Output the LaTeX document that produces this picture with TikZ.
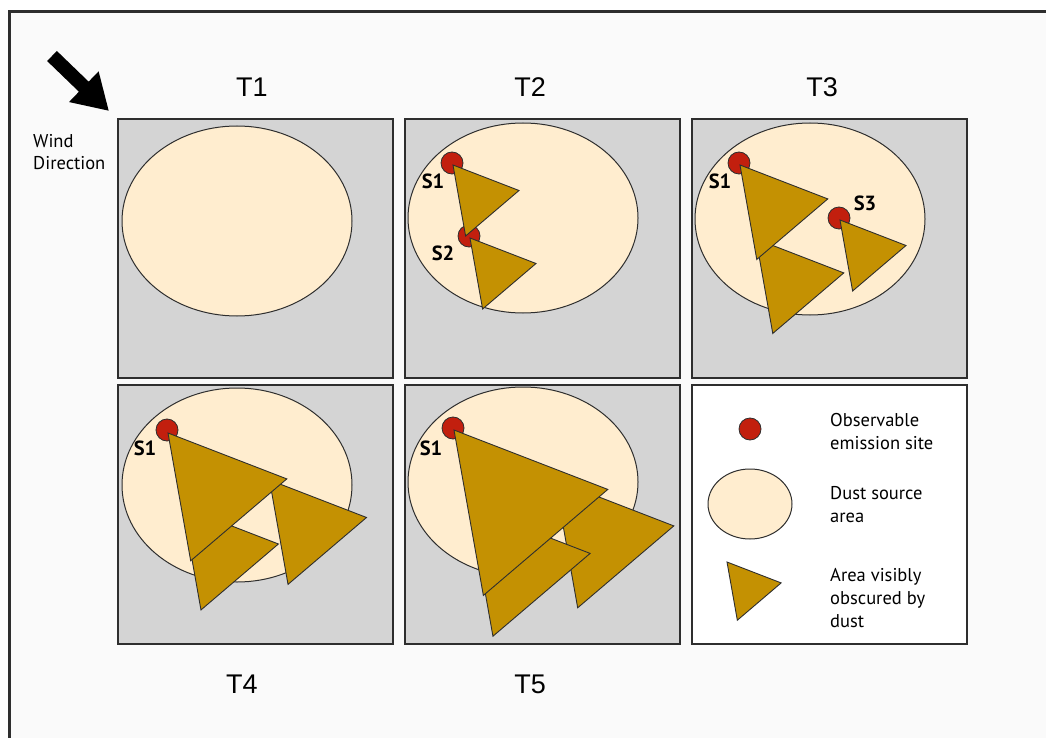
\documentclass[tikz,border=0pt]{standalone}
\usepackage{fontspec}
\setmainfont{PT Sans}
\newfontfamily\arialfont{Liberation Sans}
\usetikzlibrary{arrows.meta,positioning}
\definecolor{bgpaper}{HTML}{FAFAFA}
\definecolor{panelgray}{HTML}{D4D4D4}
\definecolor{sandcream}{HTML}{FFEDCF}
\definecolor{dustgold}{HTML}{C49102}
\definecolor{sitered}{HTML}{C21F0E}
\definecolor{inkgray}{HTML}{2E2E2E}

\begin{document}
\begin{tikzpicture}[
  x=1pt, y=-1pt,
  panel/.style={draw=inkgray, line width=1.3pt, fill=panelgray, minimum width=275pt,
                minimum height=259pt, inner sep=0pt},
  source/.style={draw=inkgray, line width=1pt, fill=sandcream},
  site/.style={draw=inkgray, line width=0.8pt, fill=sitered},
  plumefill/.style={draw=inkgray, line width=0.9pt, fill=dustgold, line join=miter},
  tlabel/.style={font=\arialfont\fontsize{27}{30}\selectfont},
  slabel/.style={font=\bfseries\fontsize{20.5}{22}\selectfont, inner sep=0pt},
  legtext/.style={font=\fontsize{18.5}{23}\selectfont, align=left, anchor=west, inner sep=0pt},
  plume/.pic={\draw[plumefill] (0,0) -- (66,25.5) -- (12.6,71) -- cycle;}
]
\useasboundingbox (0,0) rectangle (1046,738);
\clip (0,0) rectangle (1046,738);
\fill[white] (0,0) rectangle (1046,738);
\fill[bgpaper] (9,12) rectangle (1070,760);
\draw[inkgray, line width=3pt] (9,12) rectangle (1070,760);

% wind arrow
\coordinate (windtail) at (52,56);
\coordinate (windtip) at (109,111);
\draw[line width=14pt, -{Triangle[width=40pt,length=35pt]}] (windtail) -- (windtip);
\node[font=\fontsize{18.5}{22}\selectfont, align=left, anchor=west, inner sep=0pt]
  (windlabel) at (33,152) {Wind\\Direction};

% panels
\node[panel] (t1box) at (255.5,248.5) {};
\node[panel] (t2box) at (542.5,248.5) {};
\node[panel] (t3box) at (829.5,248.5) {};
\node[panel] (t4box) at (255.5,514.5) {};
\node[panel] (t5box) at (542.5,514.5) {};
\node[panel, fill=white] (legbox) at (829.5,514.5) {};

\node[tlabel] (t1) at (252,87) {T1};
\node[tlabel] (t2) at (530,87) {T2};
\node[tlabel] (t3) at (822,87) {T3};
\node[tlabel] (t4) at (242,684) {T4};
\node[tlabel] (t5) at (530,684) {T5};

% T1
\draw[source] (237,221) ellipse [x radius=115pt, y radius=95pt];

% T2
\draw[source] (523,218) ellipse [x radius=115pt, y radius=95pt];
\draw[site] (452,163) circle [radius=11pt];
\draw[site] (469,236) circle [radius=11pt];
\pic at (453,165) {plume};
\pic at (470,238) {plume};
\node[slabel] (t2s1) at (433,181) {S1};
\node[slabel] (t2s2) at (443,253) {S2};

% T3
\draw[source] (810,219) ellipse [x radius=115pt, y radius=96pt];
\draw[site] (739,163) circle [radius=11pt];
\draw[site] (839,218) circle [radius=11pt];
\pic[scale=1.33] at (756,239) {plume};
\pic[scale=1.33] at (740,165) {plume};
\pic at (840,220) {plume};
\node[slabel] (t3s1) at (720,181) {S1};
\node[slabel] (t3s3) at (865,203) {S3};

% T4
\draw[source] (237,485) ellipse [x radius=115pt, y radius=97pt];
\draw[site] (167,430) circle [radius=11pt];
\pic[scale=1.47] at (269.5,480) {plume};
\pic[scale=1.45] at (182.7,507) {plume};
\pic[scale=1.8] at (168,433) {plume};
\node[slabel] (t4s1) at (145,448) {S1};

% T5
\draw[source] (523,482) ellipse [x radius=115pt, y radius=95pt];
\draw[site] (453,428) circle [radius=11pt];
\pic[scale=1.8] at (555,480) {plume};
\pic[scale=1.82] at (470,507) {plume};
\pic[scale=2.33] at (454,430) {plume};
\node[slabel] (t5s1) at (431,448) {S1};

% legend
\draw[site] (750,429) circle [radius=11pt];
\draw[source] (750,504) ellipse [x radius=42pt, y radius=35pt];
\pic[scale=0.82] at (727,562) {plume};
\node[legtext] (legsite) at (830,432) {Observable\\emission site};
\node[legtext] (legsource) at (830,505) {Dust source\\area};
\node[legtext] (legdust) at (830,598) {Area visibly\\obscured by\\dust};
\end{tikzpicture}
\end{document}
